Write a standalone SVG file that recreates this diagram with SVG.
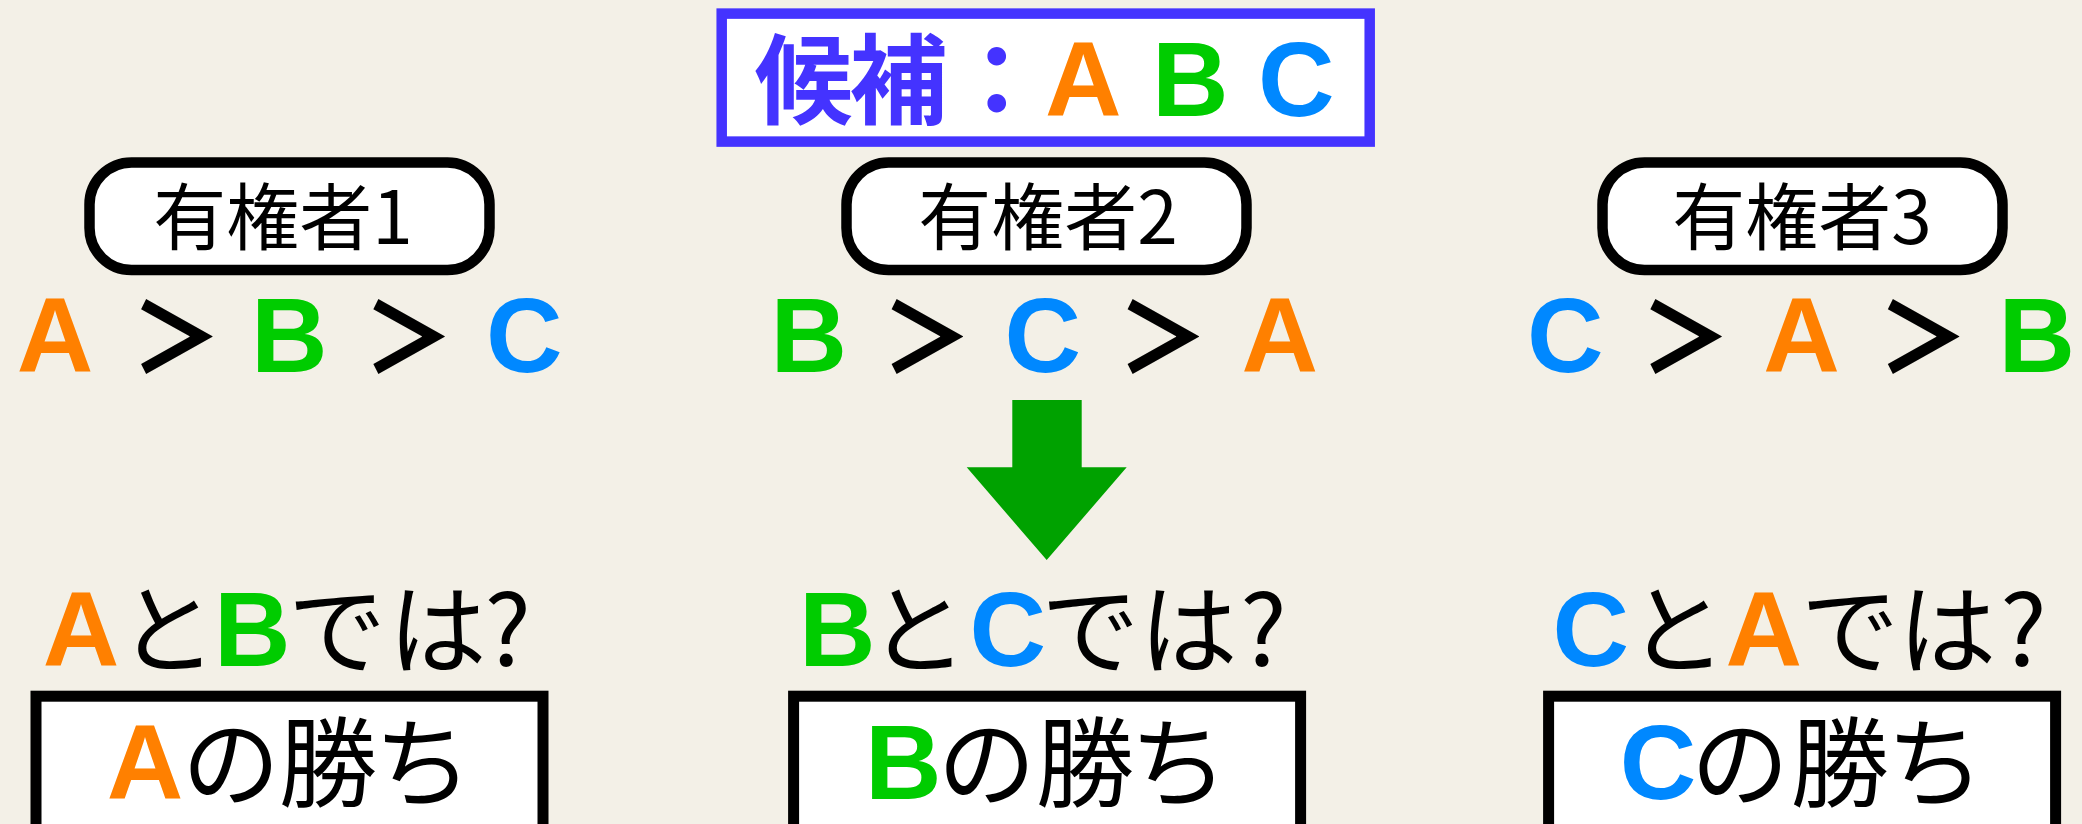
<svg xmlns="http://www.w3.org/2000/svg" width="2082" height="824" viewBox="0 0 2082 824">
<style>
.L{font-family:"Liberation Sans",Arial,sans-serif;font-weight:bold;font-size:106px;text-anchor:middle}
.J{font-family:"Noto Sans CJK JP","Noto Sans CJK SC",sans-serif;font-size:98px;text-anchor:middle;fill:#000}
.G{font-family:"Noto Sans CJK JP","Noto Sans CJK SC",sans-serif;font-weight:900;font-size:96px;text-anchor:middle;fill:#000}
.V{font-family:"Noto Sans CJK JP","Noto Sans CJK SC",sans-serif;font-size:73px;text-anchor:middle;fill:#000}
.T{font-family:"Noto Sans CJK JP","Noto Sans CJK SC",sans-serif;font-weight:bold;font-size:98px;text-anchor:middle;fill:#4433FF}
.a{fill:#FF8000}.b{fill:#00CC00}.c{fill:#0088FF}
.vbox{fill:#fff;stroke:#000;stroke-width:10.5}
.rbox{fill:#fff;stroke:#000;stroke-width:11}
</style>
<rect x="0" y="0" width="2082" height="824" fill="#F3F0E7"/>

<g id="candidates">
<rect x="721.7" y="13.6" width="648" height="128" fill="#fff" stroke="#4433FF" stroke-width="10.5"/>
<text class="T" x="803.6" y="116">候</text>
<text class="T" x="898.5" y="116">補</text>
<text class="T" x="996.7" y="116">：</text>
<text class="L a" x="1083.2" y="116">A</text>
<text class="L b" x="1190.4" y="116">B</text>
<text class="L c" x="1296.4" y="116">C</text>
</g>

<g id="voter1">
<rect class="vbox" x="89.5" y="162.5" width="400" height="107.5" rx="42" ry="42"/>
<text class="V" x="283" y="244">有権者1</text>
</g>
<g id="voter2">
<rect class="vbox" x="846.5" y="162.5" width="400" height="107.5" rx="42" ry="42"/>
<text class="V" x="1048" y="244">有権者2</text>
</g>
<g id="voter3">
<rect class="vbox" x="1602.5" y="162.5" width="400" height="107.5" rx="42" ry="42"/>
<text class="V" x="1802" y="244">有権者3</text>
</g>

<g id="ranking1">
<text class="L a" x="55.1" y="372">A</text>
<text class="G" transform="translate(176.3,372.5) scale(0.94,1)">＞</text>
<text class="L b" x="289.2" y="372">B</text>
<text class="G" transform="translate(408.7,372.5) scale(0.94,1)">＞</text>
<text class="L c" x="524.3" y="372">C</text>
</g>
<g id="ranking2">
<text class="L b" x="808.9" y="372">B</text>
<text class="G" transform="translate(926.8,372.5) scale(0.94,1)">＞</text>
<text class="L c" x="1042.9" y="372">C</text>
<text class="G" transform="translate(1162.9,372.5) scale(0.94,1)">＞</text>
<text class="L a" x="1279.8" y="372">A</text>
</g>
<g id="ranking3">
<text class="L c" x="1565.2" y="372">C</text>
<text class="G" transform="translate(1685.6,372.5) scale(0.94,1)">＞</text>
<text class="L a" x="1801.6" y="372">A</text>
<text class="G" transform="translate(1923.2,372.5) scale(0.94,1)">＞</text>
<text class="L b" x="2036.9" y="372">B</text>
</g>

<g id="connectors">
<polygon points="1012.3,400 1081.7,400 1081.7,467.3 1126.7,467.3 1046.7,560 966.7,467.3 1012.3,467.3" fill="#00A200"/>
</g>

<g id="question1">
<text class="L a" x="81" y="666">A</text>
<text class="J" x="167.4" y="666">と</text>
<text class="L b" x="252.3" y="666">B</text>
<text class="J" x="337" y="666">で</text>
<text class="J" x="437.5" y="666">は</text>
<text class="J" x="507.8" y="666">?</text>
</g>
<g id="question2">
<text class="L b" x="837.2" y="666">B</text>
<text class="J" x="918" y="666">と</text>
<text class="L c" x="1007.9" y="666">C</text>
<text class="J" x="1090.3" y="666">で</text>
<text class="J" x="1188.5" y="666">は</text>
<text class="J" x="1263.5" y="666">?</text>
</g>
<g id="question3">
<text class="L c" x="1590.8" y="666">C</text>
<text class="J" x="1677.3" y="666">と</text>
<text class="L a" x="1763.9" y="666">A</text>
<text class="J" x="1849.9" y="666">で</text>
<text class="J" x="1947.3" y="666">は</text>
<text class="J" x="2023.4" y="666">?</text>
</g>

<g id="result1">
<rect class="rbox" x="36" y="696.2" width="507" height="140"/>
<text class="L a" x="145" y="799">A</text>
<text class="J" x="231" y="799">の</text>
<text class="J" x="328.1" y="799">勝</text>
<text class="J" x="423" y="799">ち</text>
</g>
<g id="result2">
<rect class="rbox" x="793.6" y="696.2" width="507" height="140"/>
<text class="L b" x="903.3" y="799">B</text>
<text class="J" x="986.8" y="799">の</text>
<text class="J" x="1085" y="799">勝</text>
<text class="J" x="1178.7" y="799">ち</text>
</g>
<g id="result3">
<rect class="rbox" x="1548.6" y="696.2" width="507" height="140"/>
<text class="L c" x="1658" y="799">C</text>
<text class="J" x="1740" y="799">の</text>
<text class="J" x="1839.7" y="799">勝</text>
<text class="J" x="1935.2" y="799">ち</text>
</g>
</svg>
